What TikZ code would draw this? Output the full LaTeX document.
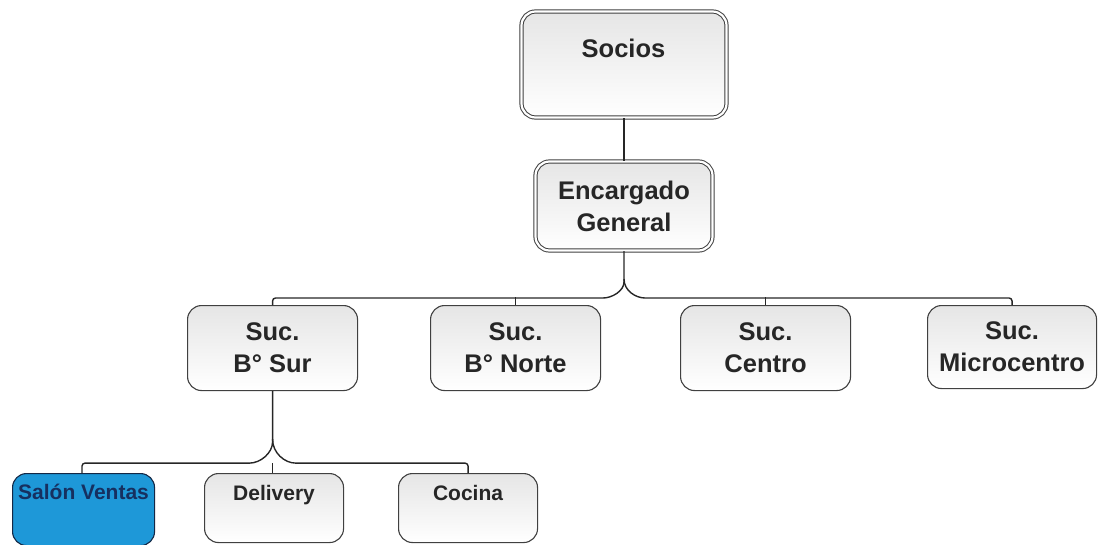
\documentclass[tikz,border=0pt]{standalone}
\usepackage{fontspec}
\setmainfont{Liberation Sans}
\definecolor{salonfill}{RGB}{30,152,216}
\definecolor{salonline}{RGB}{20,40,70}
\definecolor{salontext}{RGB}{22,48,96}
\begin{document}
\begin{tikzpicture}[x=1pt,y=1pt,
  box/.style={draw=black!75, line width=1.1pt, rounded corners=14pt,
    top color=black!10, bottom color=white, anchor=north west, inner sep=0pt},
  dbox/.style={box, double=white, double distance=2.2pt, line width=1pt},
  bluebox/.style={draw=salonline, line width=1.1pt, rounded corners=14pt,
    fill=salonfill, anchor=north west, inner sep=0pt},
  big/.style={font=\bfseries\fontsize{25.5}{32}\selectfont, align=center, text=black!85},
  small/.style={font=\bfseries\fontsize{21}{24}\selectfont, align=center, text=black!85},
  link/.style={draw=black!85, line width=1.4pt},
]
\useasboundingbox (0,0) rectangle (1098,-544);

% top levels
\node[dbox, minimum width=205pt, minimum height=106pt] (socios) at (521,-11) {};
\node[big] (sociost) at (623.5,-48) {Socios};
\node[dbox, minimum width=177pt, minimum height=89pt] (enc) at (535,-161) {};
\node[big] (enct) at (enc.center) {Encargado\\General};

% branches
\node[box, minimum width=170pt, minimum height=85pt] (sur) at (187,-305) {};
\node[big] (surt) at (sur.center) {Suc.\\B\textdegree{} Sur};
\node[box, minimum width=170pt, minimum height=85pt] (norte) at (430,-305) {};
\node[big] (nortet) at (norte.center) {Suc.\\B\textdegree{} Norte};
\node[box, minimum width=170pt, minimum height=85pt] (centro) at (680,-305) {};
\node[big] (centrot) at (centro.center) {Suc.\\Centro};
\node[box, minimum width=169pt, minimum height=83pt] (micro) at (927,-305) {};
\node[big] (microt) at (micro.center) {Suc.\\Microcentro};

% sections of B Sur
\node[bluebox, minimum width=142pt, minimum height=72pt] (salon) at (12,-473) {};
\node[small, text=salontext, anchor=north] (salont) at ([yshift=-8pt]salon.north) {Salón Ventas};
\node[box, minimum width=139pt, minimum height=69pt] (deliv) at (204,-473) {};
\node[small, anchor=north] (delivt) at ([yshift=-9pt]deliv.north) {Delivery};
\node[box, minimum width=139pt, minimum height=69pt] (cocina) at (398,-473) {};
\node[small, anchor=north] (cocinat) at ([yshift=-9pt]cocina.north) {Cocina};

% connectors
\draw[link] (socios.south) -- (enc.north);

\coordinate (e1) at ([yshift=-28pt]enc.south);
\draw[link, rounded corners=3pt] (enc.south) -- (e1)
  to[out=-90,in=0] ++(-24,-19) -| (sur.north);
\draw[link, rounded corners=3pt] (e1)
  to[out=-90,in=180] ++(24,-19) -| (micro.north);
\draw[link] (norte.north) -- (norte.north |- 0,-297);
\draw[link] (centro.north) -- (centro.north |- 0,-297);

\coordinate (s1) at ([yshift=-48pt]sur.south);
\draw[link, rounded corners=3pt] (sur.south) -- (s1)
  to[out=-90,in=0] ++(-26,-24) -| ([xshift=70pt]salon.north west);
\draw[link, rounded corners=3pt] (s1)
  to[out=-90,in=180] ++(26,-24) -| (cocina.north);
\draw[link] (deliv.north -| s1) -- ++(0,10);
\end{tikzpicture}
\end{document}
